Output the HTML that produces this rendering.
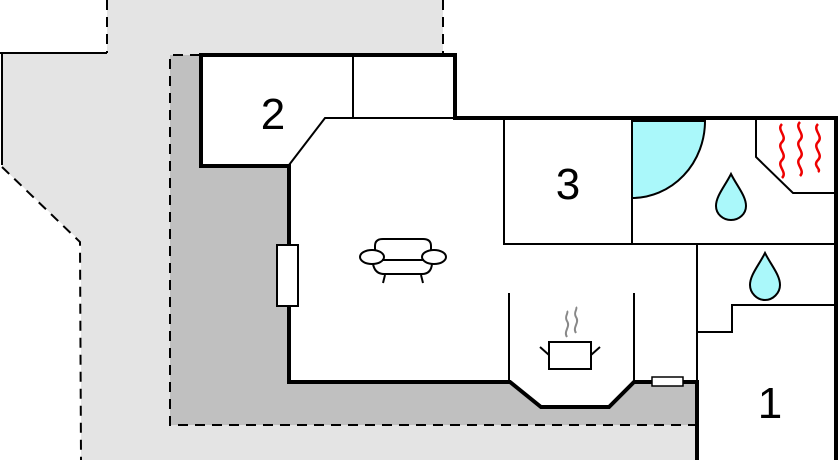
<!DOCTYPE html>
<html><head><meta charset="utf-8"><style>html,body{margin:0;padding:0;background:#fff}svg{display:block}</style></head>
<body>
<svg width="840" height="460" viewBox="0 0 840 460" xmlns="http://www.w3.org/2000/svg">
<polygon points="107,0 443,0 443,55 170,55 170,425 697,425 697,460 81,460 81,242 2,167 2,53 107,53" fill="#e4e4e4"/>
<rect x="170" y="55" width="527" height="370" fill="#c0c0c0"/>
<rect x="455" y="0" width="385" height="118" fill="#fff"/>
<polygon points="201,55 455,55 455,118 836,118 836,460 697,460 697,382 634,382 609,407 541,407 510,382 288,382 288,166 201,166" fill="#fff"/>
<g fill="none" stroke="#000" stroke-width="2" stroke-dasharray="10,7">
<line x1="107" y1="0" x2="107" y2="53"/>
<line x1="443" y1="0" x2="443" y2="53"/>
<polyline points="2,167 80,242 81,460"/>
<polyline points="200,55 170,55 170,425 697,425"/>
</g>
<polyline points="0,53 107,53" stroke="#000" stroke-width="2" fill="none"/>
<line x1="2" y1="53" x2="2" y2="165" stroke="#000" stroke-width="2"/>
<path d="M632,121 L705,121 A73,77 0 0 1 632,198 Z" fill="#aaf8fa" stroke="#000" stroke-width="2"/>
<g fill="none" stroke="#000" stroke-width="2">
<line x1="353" y1="55" x2="353" y2="118"/>
<polyline points="455,118 325,118 289,165"/>
<polyline points="504,118 504,244 836,244"/>
<line x1="632" y1="118" x2="632" y2="244"/>
<line x1="697" y1="244" x2="697" y2="382"/>
<polyline points="697,332 732,332 732,305 836,305"/>
<polyline points="756,118 756,157 793,193 836,193"/>
<line x1="509" y1="293" x2="509" y2="382"/>
<line x1="634" y1="293" x2="634" y2="382"/>
</g>
<g fill="none" stroke="#000" stroke-width="4" stroke-linejoin="miter">
<polyline points="201,55 455,55 455,118 838,118"/>
<line x1="836" y1="118" x2="836" y2="460"/>
<polyline points="201,53 201,166 289,166 289,382 510,382 541,407 609,407 634,382 697,382 697,460"/>
</g>
<rect x="277" y="245" width="21" height="61" fill="#fff" stroke="#000" stroke-width="2"/>
<rect x="652" y="377" width="31" height="9" fill="#fff" stroke="#000" stroke-width="1.5"/>
<g fill="#aaf8fa" stroke="#000" stroke-width="2">
<path d="M731,174 C725,186 716,196 716,206 C716,214 723,220 731,220 C739,220 746,214 746,206 C746,196 737,186 731,174 Z"/>
<path d="M765,253 C759,265 750,275 750,285 C750,293 757,300 765,300 C773,300 780,293 780,285 C780,275 771,265 765,253 Z"/>
</g>
<g fill="none" stroke="#e00" stroke-width="2.5">
<path d="M782,124 c-6,6 6,12 0,18 c-6,6 6,12 0,18 c-6,6 6,12 0,18"/>
<path d="M800,122 c-6,6 6,12 0,18 c-6,6 6,12 0,18 c-6,6 6,12 0,18"/>
<path d="M818,124 c-6,6 6,12 0,18 c-6,6 6,12 0,18 c-6,6 4,9 0,12"/>
</g>
<g fill="none" stroke="#000" stroke-width="2">
<path d="M375,255 L375,246 Q375,239 383,239 L423,239 Q431,239 431,246 L431,255"/>
<ellipse cx="372" cy="257" rx="12" ry="7" fill="#fff"/>
<ellipse cx="434" cy="257" rx="12" ry="7" fill="#fff"/>
<line x1="382" y1="260" x2="424" y2="260"/>
<path d="M373,264 Q375,274 384,274 L422,274 Q431,274 432,264"/>
<line x1="385" y1="275" x2="383" y2="283"/>
<line x1="421" y1="275" x2="423" y2="283"/>
<rect x="549" y="342" width="42" height="27"/>
<line x1="540" y1="347" x2="549" y2="355"/>
<line x1="600" y1="347" x2="591" y2="355"/>
</g>
<g fill="none" stroke="#888" stroke-width="2">
<path d="M567,337 c-4,-6 4,-10 0,-16 c-3,-5 2,-8 0,-10"/>
<path d="M576,333 c-4,-6 4,-10 0,-16 c-3,-5 2,-8 0,-10"/>
</g>
<g font-family="Liberation Sans, sans-serif" font-size="44" fill="#000" text-anchor="middle">
<text x="273" y="129">2</text>
<text x="568" y="199">3</text>
<text x="770" y="418">1</text>
</g>
</svg>
</body></html>
